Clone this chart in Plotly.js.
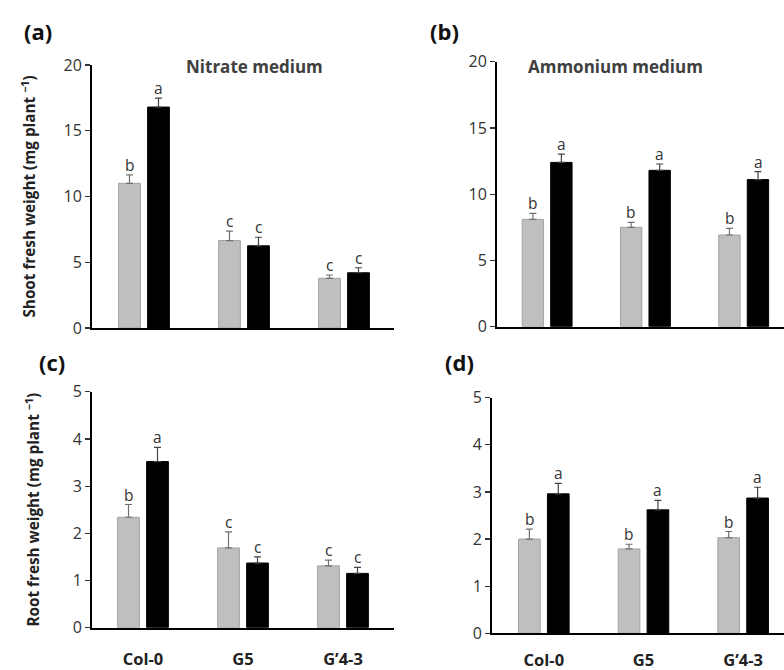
<!DOCTYPE html>
<html>
<head>
<meta charset="utf-8">
<script src="https://cdn.plot.ly/plotly-3.0.1.min.js"></script>
<style>html,body{margin:0;padding:0;background:#fff}#chart{width:784px;height:670px}</style>
</head>
<body>
<div id="chart"></div>
<script>
// ---- data ----
const categories = ["Col-0", "G5", "G\u20194-3"];

// (a) shoot fresh weight, nitrate medium
const shootNitrateGray  = [11.0, 6.65, 3.78];
const shootNitrateGrayErr  = [0.65, 0.72, 0.25];
const shootNitrateBlack = [16.8, 6.25, 4.2];
const shootNitrateBlackErr = [0.68, 0.65, 0.38];
const shootNitrateGrayLetters  = ["b", "c", "c"];
const shootNitrateBlackLetters = ["a", "c", "c"];

// (b) shoot fresh weight, ammonium medium
const shootAmmoniumGray  = [8.1, 7.5, 6.92];
const shootAmmoniumGrayErr  = [0.45, 0.38, 0.5];
const shootAmmoniumBlack = [12.4, 11.8, 11.1];
const shootAmmoniumBlackErr = [0.62, 0.48, 0.6];
const shootAmmoniumGrayLetters  = ["b", "b", "b"];
const shootAmmoniumBlackLetters = ["a", "a", "a"];

// (c) root fresh weight, nitrate medium
const rootNitrateGray  = [2.34, 1.69, 1.31];
const rootNitrateGrayErr  = [0.27, 0.34, 0.12];
const rootNitrateBlack = [3.52, 1.37, 1.15];
const rootNitrateBlackErr = [0.3, 0.13, 0.13];
const rootNitrateGrayLetters  = ["b", "c", "c"];
const rootNitrateBlackLetters = ["a", "c", "c"];

// (d) root fresh weight, ammonium medium
const rootAmmoniumGray  = [2.0, 1.79, 2.03];
const rootAmmoniumGrayErr  = [0.21, 0.1, 0.13];
const rootAmmoniumBlack = [2.96, 2.62, 2.87];
const rootAmmoniumBlackErr = [0.22, 0.2, 0.23];
const rootAmmoniumGrayLetters  = ["b", "b", "b"];
const rootAmmoniumBlackLetters = ["a", "a", "a"];

const yTicksShoot = [0, 5, 10, 15, 20];
const yTicksRoot = [0, 1, 2, 3, 4, 5];

// ---- styling ----
const FONT = "'Open Sans', Lato, sans-serif";
const W = 784, H = 670;
const px = v => v / W;
const py = v => (H - v) / H;

const GRAY = "#bfbfbf", GRAY_LINE = "#a3a3a3";

const panels = [
  {ax: "", gray: shootNitrateGray, grayErr: shootNitrateGrayErr, black: shootNitrateBlack, blackErr: shootNitrateBlackErr,
   gl: shootNitrateGrayLetters, bl: shootNitrateBlackLetters},
  {ax: "2", gray: shootAmmoniumGray, grayErr: shootAmmoniumGrayErr, black: shootAmmoniumBlack, blackErr: shootAmmoniumBlackErr,
   gl: shootAmmoniumGrayLetters, bl: shootAmmoniumBlackLetters},
  {ax: "3", gray: rootNitrateGray, grayErr: rootNitrateGrayErr, black: rootNitrateBlack, blackErr: rootNitrateBlackErr,
   gl: rootNitrateGrayLetters, bl: rootNitrateBlackLetters},
  {ax: "4", gray: rootAmmoniumGray, grayErr: rootAmmoniumGrayErr, black: rootAmmoniumBlack, blackErr: rootAmmoniumBlackErr,
   gl: rootAmmoniumGrayLetters, bl: rootAmmoniumBlackLetters}
];

const traces = [];
const annotations = [];
panels.forEach(p => {
  const xa = "x" + p.ax, ya = "y" + p.ax;
  traces.push({
    type: "bar", x: categories, y: p.gray, xaxis: xa, yaxis: ya, name: "gray", showlegend: false,
    marker: {color: GRAY, line: {color: GRAY_LINE, width: 1}},
    error_y: {type: "data", array: p.grayErr, arrayminus: p.grayErr.map(() => 0), symmetric: false,
              color: "#707070", thickness: 1.2, width: 3.5},
    hoverinfo: "skip"
  });
  traces.push({
    type: "bar", x: categories, y: p.black, xaxis: xa, yaxis: ya, name: "black", showlegend: false,
    marker: {color: "#000000", line: {color: "#000000", width: 1}},
    error_y: {type: "data", array: p.blackErr, arrayminus: p.blackErr.map(() => 0), symmetric: false,
              color: "#444444", thickness: 1.2, width: 3.5},
    hoverinfo: "skip"
  });
  categories.forEach((c, i) => {
    annotations.push({xref: xa, yref: ya, x: i, y: p.gray[i] + p.grayErr[i], text: p.gl[i],
      showarrow: false, yanchor: "bottom", xshift: -14.5, yshift: -3,
      font: {family: FONT, size: 15.5, color: "#333"}});
    annotations.push({xref: xa, yref: ya, x: i, y: p.black[i] + p.blackErr[i], text: p.bl[i],
      showarrow: false, yanchor: "bottom", xshift: 14.5, yshift: -3,
      font: {family: FONT, size: 15.5, color: "#333"}});
  });
});

// panel letters and titles
[["(a)", 38, 31], ["(b)", 445, 31], ["(c)", 52, 362], ["(d)", 459, 362]].forEach(([t, x, y]) => {
  annotations.push({xref: "paper", yref: "paper", x: px(x), y: py(y), text: "<b>" + t + "</b>", showarrow: false,
    xanchor: "center", yanchor: "middle", font: {family: FONT, size: 22, color: "#111"}});
});
annotations.push({xref: "paper", yref: "paper", x: px(254), y: py(66), text: "<b>Nitrate medium</b>", showarrow: false,
  xanchor: "center", yanchor: "middle", font: {family: FONT, size: 17, color: "#404040"}});
annotations.push({xref: "paper", yref: "paper", x: px(615), y: py(66), text: "<b>Ammonium medium</b>", showarrow: false,
  xanchor: "center", yanchor: "middle", font: {family: FONT, size: 17, color: "#404040"}});

const xBase = {
  type: "category", showgrid: false, zeroline: false, showline: true, linecolor: "#000", linewidth: 2,
  ticks: "", fixedrange: true,
  tickfont: {family: FONT, size: 16.5, color: "#222", weight: "bold"}
};
const yBase = {
  showgrid: false, zeroline: false, showline: true, linecolor: "#000", linewidth: 2,
  ticks: "outside", ticklen: 5, tickwidth: 1.2, tickcolor: "#333", fixedrange: true,
  tickfont: {family: FONT, size: 16, color: "#333"}
};

const layout = {
  width: W, height: H, margin: {l: 0, r: 0, t: 0, b: 0},
  paper_bgcolor: "#fff", plot_bgcolor: "#fff",
  barmode: "group", bargap: 0.42, bargroupgap: 0.25,
  showlegend: false,
  xaxis:  Object.assign({}, xBase, {domain: [px(92), px(394)], range: [-0.52, 2.5], anchor: "y", showticklabels: false}),
  yaxis:  Object.assign({}, yBase, {domain: [py(328), py(65)], range: [0, 20], tickvals: yTicksShoot, anchor: "x",
            title: {text: "<b>Shoot fresh weight (mg plant <sup>\u22121</sup>)</b>", standoff: 24,
                    font: {family: FONT, size: 15.3, color: "#222"}}}),
  xaxis2: Object.assign({}, xBase, {domain: [px(497), 1], range: [-0.51, 2.41], anchor: "y2", showticklabels: false}),
  yaxis2: Object.assign({}, yBase, {domain: [py(326.7), py(61.7)], range: [0, 20], tickvals: yTicksShoot, anchor: "x2"}),
  xaxis3: Object.assign({}, xBase, {domain: [px(92), px(394)], range: [-0.51, 2.51], anchor: "y3", ticklabelstandoff: 15}),
  yaxis3: Object.assign({}, yBase, {domain: [py(627.7), py(391.7)], range: [0, 5], tickvals: yTicksRoot, anchor: "x3",
            title: {text: "<b>Root fresh weight (mg plant <sup>\u22121</sup>)</b>", standoff: 29,
                    font: {family: FONT, size: 15.3, color: "#222"}}}),
  xaxis4: Object.assign({}, xBase, {domain: [px(492), 1], range: [-0.52, 2.41], anchor: "y4", ticklabelstandoff: 11}),
  yaxis4: Object.assign({}, yBase, {domain: [py(633.3), py(397.7)], range: [0, 5], tickvals: yTicksRoot, anchor: "x4"}),
  annotations: annotations
};

Plotly.newPlot("chart", traces, layout, {staticPlot: true, displayModeBar: false});
</script>
</body>
</html>
